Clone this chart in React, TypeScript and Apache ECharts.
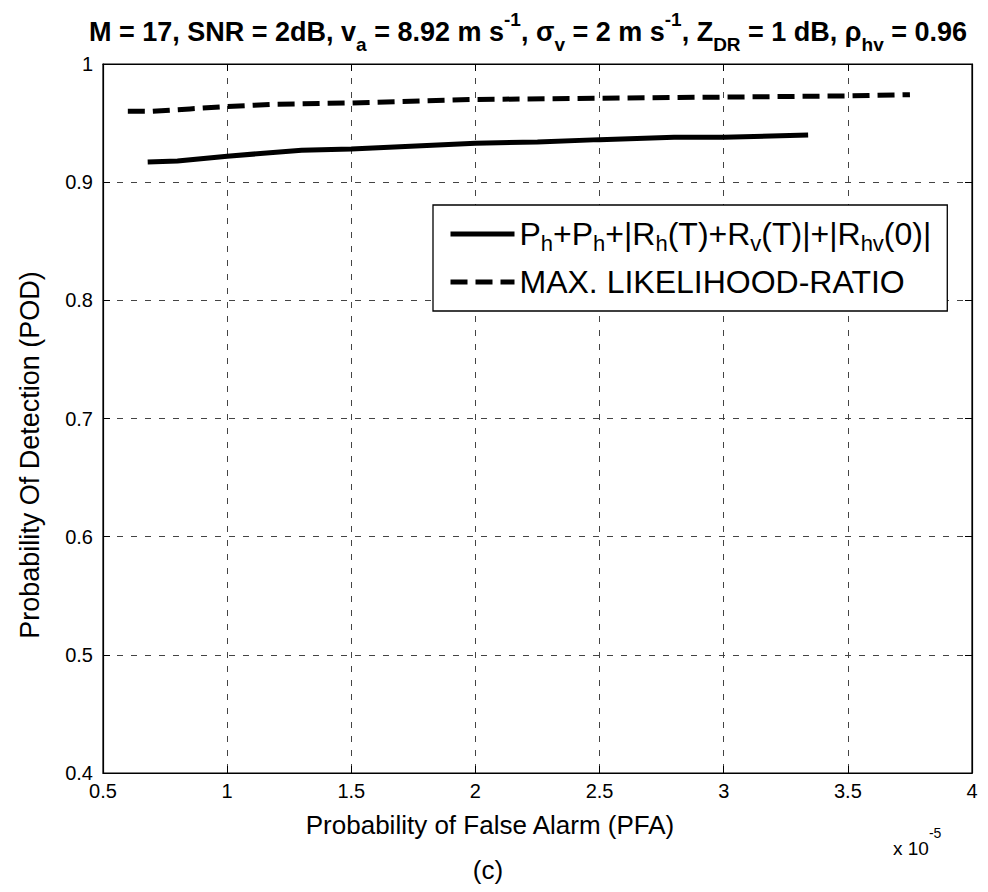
import { useEffect, useRef } from 'react';
import * as echarts from 'echarts';

const solidX = [0.68, 0.8, 1.0, 1.3, 1.5, 2.0, 2.25, 2.5, 2.8, 3.0, 3.34];
const solidY = [0.917, 0.918, 0.922, 0.927, 0.928, 0.933, 0.934, 0.936, 0.938, 0.938, 0.94];
const dashX = [0.6, 0.7, 0.85, 1.0, 1.2, 1.5, 2.0, 2.5, 3.0, 3.5, 3.75];
const dashY = [0.96, 0.96, 0.962, 0.964, 0.966, 0.967, 0.97, 0.971, 0.972, 0.973, 0.974];
const seriesNames = ['ENERGY', 'MLR'];
const xTicks = { min: 0.5, max: 4, interval: 0.5 };
const yTicks = { min: 0.4, max: 1, interval: 0.1 };

const FONT = 'Liberation Sans, Arial, sans-serif';

export default function App() {
  const ref = useRef<HTMLDivElement>(null);
  useEffect(() => {
    const chart = echarts.init(ref.current!, null, { renderer: 'svg' });
    const gridLine = { show: true, lineStyle: { type: [6, 8], color: '#444', width: 1 } };
    const axisCommon = {
      type: 'value',
      axisLine: { show: true, onZero: false, lineStyle: { color: '#000', width: 1.2 } },
      axisTick: { show: true, inside: true, length: 7, lineStyle: { color: '#000', width: 1 } },
    };
    const titleRich = {
      b: { fontSize: 27, fontWeight: 'bold', fontFamily: FONT, color: '#000', lineHeight: 44 },
      sub: { fontSize: 19, fontWeight: 'bold', fontFamily: FONT, color: '#000', lineHeight: 19, verticalAlign: 'bottom' },
      sup: { fontSize: 19, fontWeight: 'bold', fontFamily: FONT, color: '#000', lineHeight: 19, verticalAlign: 'top' },
    };
    chart.setOption({
      animation: false,
      backgroundColor: '#fff',
      title: {
        left: 84,
        top: 5,
        text:
          '{b|M = 17, SNR = 2dB, v}{sub|a}{b| = 8.92 m s}{sup|-1}{b|, σ}{sub|v}{b| = 2 m s}{sup|-1}{b|, Z}{sub|DR}{b| = 1 dB, ρ}{sub|hv}{b| = 0.96}',
        textStyle: { rich: titleRich },
      },
      grid: { left: 103, top: 64, width: 869, height: 709, show: true, borderColor: '#000', borderWidth: 1.2, backgroundColor: '#fff' },
      xAxis: [
        {
          ...axisCommon,
          position: 'bottom',
          ...xTicks,
          axisLabel: { fontSize: 20, color: '#000', fontFamily: FONT, margin: 8, formatter: (v: number) => String(+v.toFixed(1)) },
          splitLine: gridLine,
        },
        {
          ...axisCommon,
          position: 'top',
          ...xTicks,
          axisLabel: { show: false },
          splitLine: { show: false },
        },
      ],
      yAxis: [
        {
          ...axisCommon,
          position: 'left',
          ...yTicks,
          axisLabel: { fontSize: 20, color: '#000', fontFamily: FONT, margin: 10, formatter: (v: number) => String(+v.toFixed(1)) },
          splitLine: gridLine,
        },
        {
          ...axisCommon,
          position: 'right',
          ...yTicks,
          axisLabel: { show: false },
          splitLine: { show: false },
        },
      ],
      legend: {
        orient: 'vertical',
        left: 433,
        top: 205,
        itemWidth: 64,
        itemHeight: 14,
        itemGap: 12,
        padding: [13, 16, 13, 15],
        borderColor: '#000',
        borderWidth: 1.3,
        borderRadius: 0,
        backgroundColor: '#fff',
        itemStyle: { color: 'rgba(0,0,0,0)', borderColor: 'rgba(0,0,0,0)', borderWidth: 0 },
        lineStyle: { width: 5, color: '#000' },
        data: seriesNames,
        formatter: (name: string) =>
          name === seriesNames[0]
            ? '{n|P}{s|h}{n|+P}{s|h}{n|+|R}{s|h}{n|(T)+R}{s|v}{n|(T)|+|R}{s|hv}{n|(0)|}'
            : '{n|MAX. LIKELIHOOD-RATIO}',
        textStyle: {
          color: '#000',
          fontSize: 32,
          fontFamily: FONT,
          rich: {
            n: { fontSize: 32, fontFamily: FONT, color: '#000', lineHeight: 40 },
            s: { fontSize: 22, fontFamily: FONT, color: '#000', lineHeight: 16, padding: [14, 0, 0, 0], verticalAlign: 'bottom' },
          },
        },
      },
      series: [
        {
          name: seriesNames[0],
          type: 'line',
          data: solidX.map((x, i) => [x, solidY[i]]),
          symbol: 'none',
          showSymbol: false,
          lineStyle: { color: '#000', width: 5 },
          itemStyle: { color: '#000' },
        },
        {
          name: seriesNames[1],
          type: 'line',
          data: dashX.map((x, i) => [x, dashY[i]]),
          symbol: 'none',
          showSymbol: false,
          lineStyle: { color: '#000', width: 5, type: [17, 8] },
          itemStyle: { color: '#000' },
        },
      ],
      graphic: [
        {
          type: 'text',
          x: 30,
          y: 455,
          rotation: Math.PI / 2,
          style: { text: 'Probability Of Detection (POD)', fontSize: 27, fontFamily: FONT, fill: '#000', align: 'center', verticalAlign: 'middle' },
        },
        {
          type: 'text',
          x: 490,
          y: 825,
          style: { text: 'Probability of False Alarm (PFA)', fontSize: 26, fontFamily: FONT, fill: '#000', align: 'center', verticalAlign: 'middle' },
        },
        {
          type: 'text',
          x: 488,
          y: 870,
          style: { text: '(c)', fontSize: 26, fontFamily: FONT, fill: '#000', align: 'center', verticalAlign: 'middle' },
        },
        {
          type: 'text',
          x: 893,
          y: 826,
          style: {
            text: '{a|x 10}{b|-5}',
            rich: {
              a: { fontSize: 19, fontFamily: FONT, color: '#000', lineHeight: 32, verticalAlign: 'bottom' },
              b: { fontSize: 14, fontFamily: FONT, color: '#000', lineHeight: 14, verticalAlign: 'top' },
            },
          },
        },
      ],
    });
    return () => chart.dispose();
  }, []);
  return <div ref={ref} style={{ position: 'fixed', left: 0, top: 0, width: 988, height: 892, background: '#fff' }} />;
}
